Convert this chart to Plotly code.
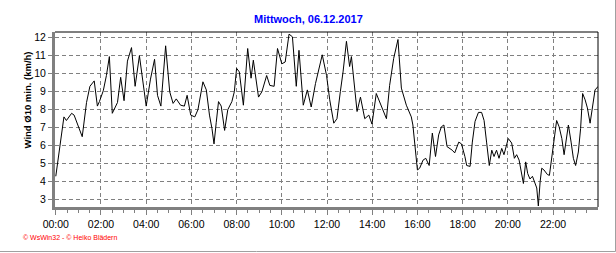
import plotly.graph_objects as go

# Time of each reading (hours since midnight) and 10-min mean wind (km/h)
time_h = [0.0, 0.36, 0.47, 0.7, 0.81, 1.17, 1.36, 1.51, 1.7, 1.84, 1.93, 2.1, 2.24, 2.37, 2.5,
          2.73, 2.87, 3.02, 3.17, 3.35, 3.51, 3.7, 4.0, 4.19, 4.37, 4.5, 4.65, 4.86, 5.04, 5.19,
          5.33, 5.52, 5.69, 5.81, 5.97, 6.15, 6.29, 6.51, 6.66, 6.8, 6.91, 7.0, 7.1, 7.2, 7.32,
          7.47, 7.61, 7.79, 7.9, 8.0, 8.12, 8.3, 8.49, 8.64, 8.74, 8.86, 8.97, 9.12, 9.33, 9.47,
          9.66, 9.81, 9.88, 10.0, 10.15, 10.32, 10.47, 10.64, 10.76, 10.95, 11.13, 11.3, 11.49,
          11.79, 11.98, 12.12, 12.3, 12.44, 12.59, 12.71, 12.86, 13.0, 13.08, 13.33, 13.48, 13.67,
          13.85, 13.99, 14.18, 14.36, 14.63, 14.77, 14.95, 15.14, 15.29, 15.51, 15.73, 15.8, 16.0,
          16.1, 16.25, 16.37, 16.52, 16.66, 16.8, 16.94, 17.06, 17.17, 17.31, 17.54, 17.65, 17.83,
          17.95, 18.1, 18.18, 18.33, 18.43, 18.55, 18.7, 18.84, 18.95, 19.06, 19.18, 19.29, 19.39,
          19.5, 19.61, 19.73, 19.83, 20.02, 20.17, 20.29, 20.39, 20.5, 20.59, 20.69, 20.79, 20.88,
          20.98, 21.09, 21.28, 21.35, 21.43, 21.5, 21.6, 21.75, 21.84, 21.94, 22.05, 22.16, 22.27,
          22.39, 22.49, 22.68, 22.8, 22.9, 23.0, 23.12, 23.22, 23.31, 23.42, 23.52, 23.64, 23.79,
          23.86, 24.0]
wind_kmh = [4.3, 7.6, 7.4, 7.8, 7.7, 6.5, 8.4, 9.3, 9.6, 8.2, 8.45, 9.05, 9.9, 10.95, 7.8,
            8.4, 9.8, 8.5, 10.7, 11.45, 9.3, 11.0, 8.2, 9.7, 10.8, 8.8, 8.2, 11.55, 9.0, 8.35,
            8.6, 8.25, 8.2, 8.8, 7.7, 7.6, 8.0, 9.55, 9.1, 7.7, 6.95, 6.1, 7.3, 8.45, 8.2,
            6.85, 8.0, 8.45, 9.0, 10.3, 10.1, 8.25, 11.4, 9.75, 10.75, 9.55, 8.7, 9.0, 9.9, 9.35,
            9.3, 11.4, 11.1, 10.55, 10.65, 12.2, 12.05, 9.3, 11.3, 8.25, 9.1, 8.15, 9.45,
            11.05, 9.9, 8.55, 7.25, 7.5, 9.0, 10.1, 11.8, 10.4, 10.95, 7.9, 8.7, 7.5,
            7.7, 7.2, 8.9, 8.35, 7.5, 9.35, 10.85, 11.9, 9.2, 8.25, 7.6, 7.15, 4.65,
            4.75, 5.2, 5.3, 4.9, 6.7, 5.4, 6.6, 7.05, 7.15, 5.95, 5.75, 5.6, 6.2,
            6.1, 5.4, 4.9, 4.85, 6.2, 7.35, 7.85, 7.85, 7.4, 6.2, 4.9, 5.75, 5.4,
            5.75, 5.3, 5.85, 5.5, 6.4, 6.15, 5.3, 5.5, 5.2, 4.55, 3.9, 5.1, 4.45,
            4.15, 4.3, 3.65, 2.65, 4.0, 4.75, 4.65, 4.4, 4.35, 5.3, 6.4, 7.4, 7.05,
            6.4, 5.5, 7.15, 6.2, 5.3, 4.9, 5.65, 6.95, 8.9, 8.55, 8.1, 7.25, 8.55,
            9.1, 9.3]

x_tick_vals = [0, 2, 4, 6, 8, 10, 12, 14, 16, 18, 20, 22]
x_tick_text = ["00:00", "02:00", "04:00", "06:00", "08:00", "10:00", "12:00",
               "14:00", "16:00", "18:00", "20:00", "22:00"]
x_minor_vals = [h / 2 for h in range(0, 48)]
y_tick_vals = [3, 4, 5, 6, 7, 8, 9, 10, 11, 12]

title_text = "Mittwoch, 06.12.2017"
y_title = "Wind Ø10 min. (km/h)"
credit_text = "© WsWin32 - © Heiko Blädern"

W, H = 616, 253
ML, MR, MT, MB = 55, 18, 32, 46
PW, PH = W - ML - MR, H - MT - MB


def px(xp):
    return (xp - ML) / PW


def py(yp):
    return (H - MB - yp) / PH


GRAY = "#808080"
FONT = "Liberation Sans, Arial, sans-serif"

fig = go.Figure()
fig.add_trace(go.Scatter(x=time_h, y=wind_kmh, mode="lines",
                         line=dict(color="black", width=1), hoverinfo="skip",
                         showlegend=False))

fig.update_layout(
    width=W, height=H,
    margin=dict(l=ML, r=MR, t=MT, b=MB, pad=0),
    paper_bgcolor="white", plot_bgcolor="white",
    font=dict(family=FONT, size=11, color="black"),
    showlegend=False,
    xaxis=dict(
        range=[-0.035, 23.99],
        tickmode="array", tickvals=x_tick_vals, ticktext=x_tick_text,
        ticks="outside", ticklen=5, tickcolor=GRAY, tickwidth=1,
        showgrid=True, gridcolor=GRAY, griddash="4px,3px", gridwidth=1,
        showline=True, linecolor=GRAY, linewidth=3,
        zeroline=False,
        tickfont=dict(family=FONT, size=10.5, color="black"),
        minor=dict(tickvals=x_minor_vals, ticks="outside", ticklen=3,
                   tickcolor=GRAY, tickwidth=1, showgrid=False),
    ),
    yaxis=dict(
        range=[2.594, 12.317],
        tickmode="array", tickvals=y_tick_vals,
        ticks="outside", ticklen=4, tickcolor=GRAY, tickwidth=1,
        showgrid=True, gridcolor=GRAY, griddash="4px,3px", gridwidth=1,
        showline=True, linecolor=GRAY, linewidth=3,
        zeroline=False,
        tickfont=dict(family=FONT, size=10.5, color="black"),
    ),
)

fig.add_annotation(text="<b>" + title_text + "</b>", xref="paper", yref="paper",
                   x=px(308.5), y=py(19), xanchor="center", yanchor="middle",
                   showarrow=False, font=dict(family=FONT, size=11, color="#0000ff"))
fig.add_annotation(text="<b>" + y_title + "</b>", xref="paper", yref="paper",
                   x=px(26.5), y=py(100), xanchor="center", yanchor="middle",
                   textangle=-90, showarrow=False,
                   font=dict(family=FONT, size=9.5, color="black"))
fig.add_annotation(text=credit_text, xref="paper", yref="paper",
                   x=px(21), y=py(238), xanchor="left", yanchor="middle",
                   showarrow=False, font=dict(family=FONT, size=7, color="#ff0000"))

# plot frame top/right (thin black)
fig.add_shape(type="line", xref="paper", yref="paper", x0=0, x1=1, y0=1, y1=1,
              line=dict(color="black", width=1))
fig.add_shape(type="line", xref="paper", yref="paper", x0=1, x1=1, y0=0, y1=1,
              line=dict(color="black", width=1))
# outer picture frame (right/bottom)
fig.add_shape(type="line", xref="paper", yref="paper", x0=px(615.5), x1=px(615.5),
              y0=py(0), y1=py(251.5), line=dict(color="#a0a0a0", width=1))
fig.add_shape(type="line", xref="paper", yref="paper", x0=px(0), x1=px(615.5),
              y0=py(251.5), y1=py(251.5), line=dict(color="#a0a0a0", width=1))

fig.write_html("out.html")
